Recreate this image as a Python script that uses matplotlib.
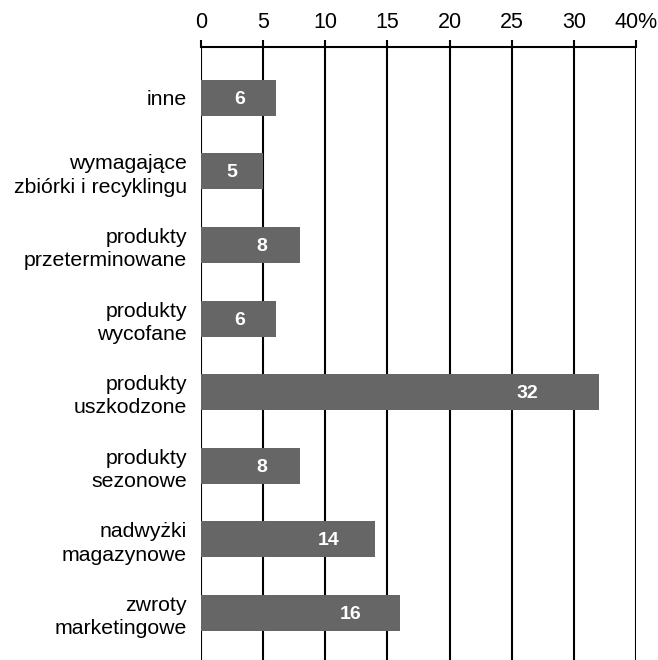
import matplotlib

matplotlib.use('Agg')
import matplotlib.pyplot as plt

categories = [
    'inne',
    'wymagające\nzbiórki i recyklingu',
    'produkty\nprzeterminowane',
    'produkty\nwycofane',
    'produkty\nuszkodzone',
    'produkty\nsezonowe',
    'nadwyżki\nmagazynowe',
    'zwroty\nmarketingowe',
]
values = [6, 5, 8, 6, 32, 8, 14, 16]
tick_values = [0, 5, 10, 15, 20, 25, 30, 35]
tick_labels = ['0', '5', '10', '15', '20', '25', '30', '40%']

plt.rcParams['font.family'] = ['Liberation Sans', 'DejaVu Sans']

fig = plt.figure(figsize=(6.58, 6.60), dpi=100)
ax = fig.add_axes([201 / 658, 0, 435 / 658, 613 / 660])

pos = list(range(len(categories)))
ax.barh(pos, values, height=0.49, color='#666666', zorder=3)

for i, v in enumerate(values):
    x = max(v / 2, 0.89 * v - 2.2)
    ax.text(x, i + 0.02, str(v), color='white', fontweight='bold', fontsize=14,
            ha='center', va='center', zorder=4)

ax.set_ylim(7.64, -0.69)
ax.set_xlim(0, 35)
ax.set_yticks(pos)
ax.set_yticklabels(categories, fontsize=15.3, ha='right',
                   multialignment='right', linespacing=1.28)
ax.tick_params(axis='y', length=0, pad=10)

ax.xaxis.tick_top()
ax.set_xticks(tick_values)
ax.set_xticklabels(tick_labels, fontsize=15.5)
ax.tick_params(axis='x', length=5, width=1.5, color='black', pad=5)
ax.xaxis.grid(True, color='black', linewidth=1.5, zorder=0)

for s in ['left', 'right', 'bottom']:
    ax.spines[s].set_visible(False)
ax.spines['top'].set_linewidth(1.5)

fig.savefig('out.png', dpi=100)
